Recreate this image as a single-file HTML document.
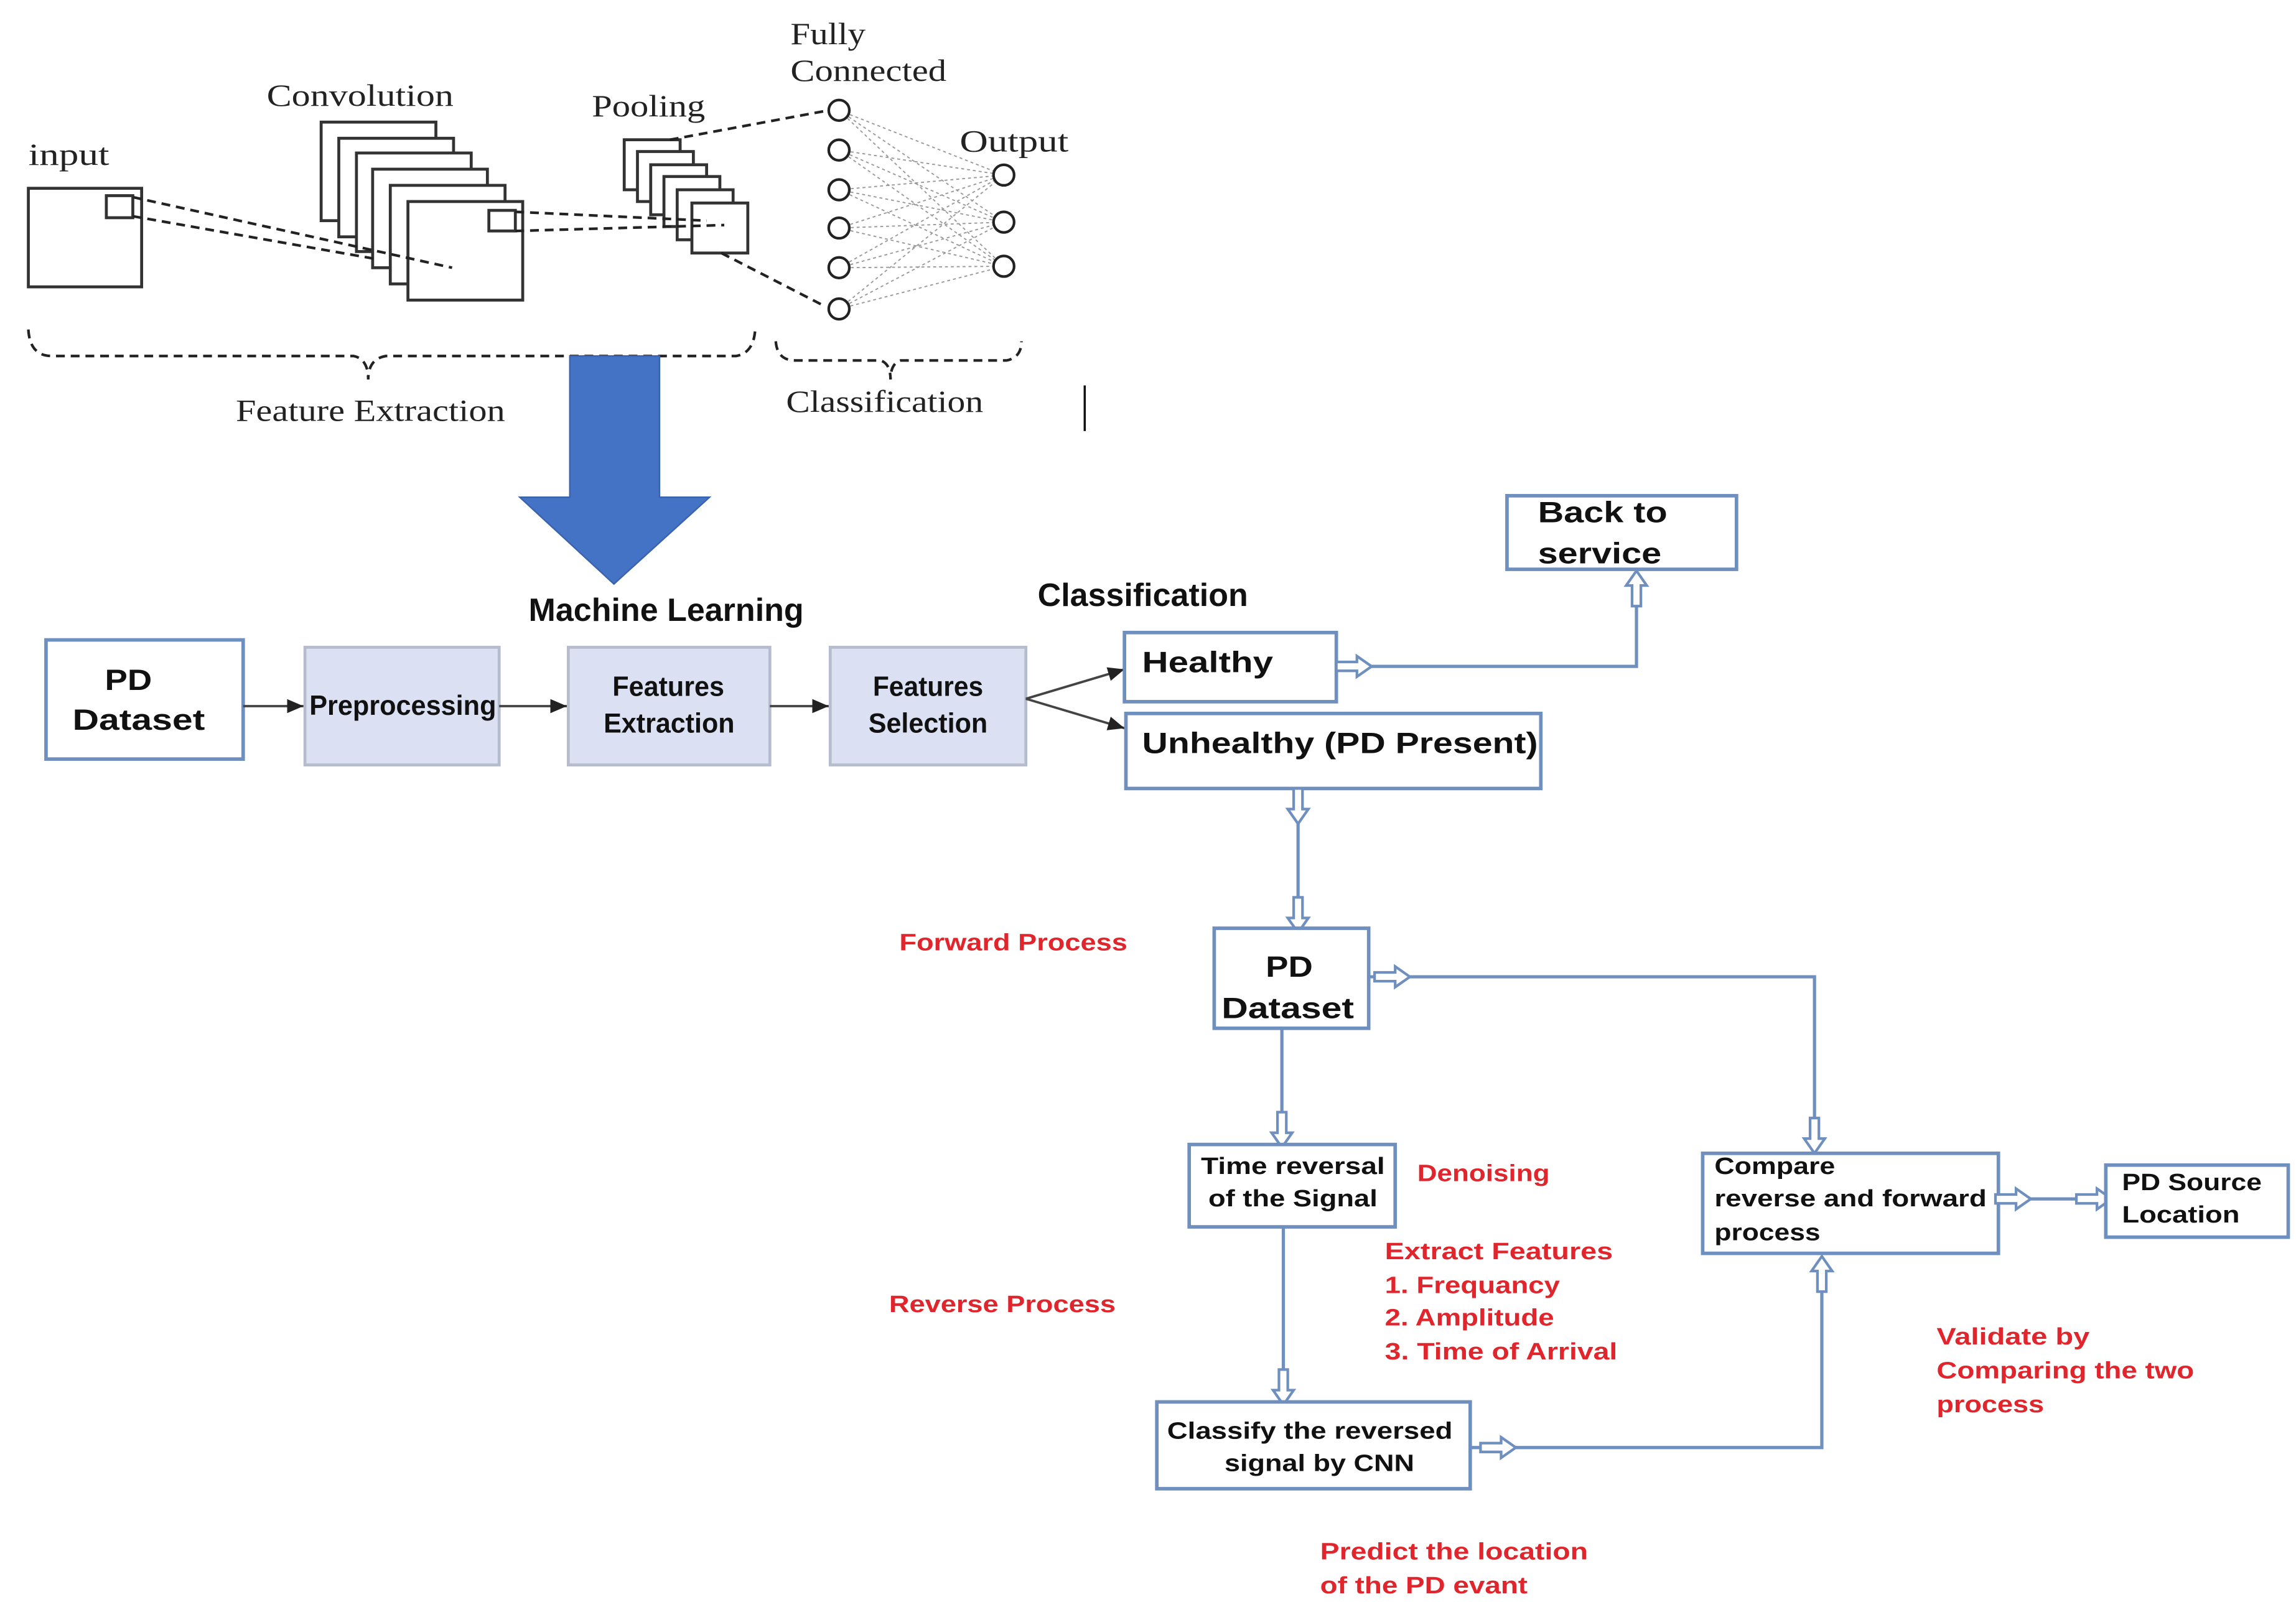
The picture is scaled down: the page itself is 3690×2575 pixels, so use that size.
<!DOCTYPE html>
<html><head><meta charset="utf-8"><style>
html,body{margin:0;padding:0;background:#fff;}
svg{display:block;}
.serif{font-family:"Liberation Serif",serif;fill:#222;font-size:21px;}
.b{font-family:"Liberation Sans",sans-serif;font-weight:bold;fill:#111;}
.r{font-family:"Liberation Sans",sans-serif;font-weight:bold;fill:#e0262c;font-size:16px;}
.ln{stroke:#6f8fbf;stroke-width:2.2;fill:none;}
.bx{stroke:#6f8fbf;stroke-width:2.4;fill:#fff;}
.gb{stroke:#b5bccb;stroke-width:2;fill:#dbe1f3;}
.k{stroke:#333;stroke-width:2;fill:#fff;}
.d{stroke:#222;stroke-width:1.8;stroke-dasharray:6,4;fill:none;}
.f{stroke:#999;stroke-width:0.8;stroke-dasharray:2,2;fill:none;}
</style></head><body>
<svg width="3690" height="2575" viewBox="0 0 1560 1089" xmlns="http://www.w3.org/2000/svg">
<defs>
<g id="ha"><polygon points="-12,-3 2,-3 2,-7 12,0 2,7 2,3 -12,3" fill="#fff" stroke="#6f8fbf" stroke-width="1.8"/></g>
<marker id="m" markerWidth="8" markerHeight="8" refX="7" refY="4" orient="auto"><path d="M0,1 L7,4 L0,7z" fill="#222"/></marker>
</defs>
<g lengthAdjust="spacingAndGlyphs">
<text class="serif" x="19" y="112" textLength="55" lengthAdjust="spacingAndGlyphs">input</text>
<text class="serif" x="181" y="72" textLength="127" lengthAdjust="spacingAndGlyphs">Convolution</text>
<text class="serif" x="402" y="79" textLength="77" lengthAdjust="spacingAndGlyphs">Pooling</text>
<text class="serif" x="537" y="30" textLength="51" lengthAdjust="spacingAndGlyphs">Fully</text>
<text class="serif" x="537" y="55" textLength="106" lengthAdjust="spacingAndGlyphs">Connected</text>
<text class="serif" x="652" y="103" textLength="74" lengthAdjust="spacingAndGlyphs">Output</text>
</g>
<rect class="k" x="19" y="128" width="77" height="67"/>
<rect class="k" x="72" y="133" width="18" height="15"/>
<rect class="k" x="218" y="83" width="78" height="67"/>
<rect class="k" x="230" y="94" width="78" height="67"/>
<rect class="k" x="242" y="104" width="78" height="67"/>
<rect class="k" x="253" y="115" width="78" height="67"/>
<rect class="k" x="265" y="126" width="78" height="67"/>
<rect class="k" x="277" y="137" width="78" height="67"/>
<rect class="k" x="332" y="143" width="18" height="14"/>
<path class="d" d="M90,134 L307,182 M90,147 L255,176"/>
<rect class="k" x="424" y="95" width="38" height="34"/>
<rect class="k" x="433" y="103" width="38" height="34"/>
<rect class="k" x="442" y="112" width="38" height="34"/>
<rect class="k" x="451" y="120" width="38" height="34"/>
<rect class="k" x="460" y="129" width="38" height="34"/>
<rect class="k" x="470" y="138" width="38" height="34"/>
<path class="d" d="M350,144 L480,150 M350,157 L492,153 M455,95 L563,75 M490,172 L560,208"/>
<g class="f">
<path d="M570,75 L682,119 M570,75 L682,151 M570,75 L682,181 M570,102 L682,119 M570,102 L682,151 M570,102 L682,181 M570,129 L682,119 M570,129 L682,151 M570,129 L682,181 M570,155 L682,119 M570,155 L682,151 M570,155 L682,181 M570,182 L682,119 M570,182 L682,151 M570,182 L682,181 M570,210 L682,119 M570,210 L682,151 M570,210 L682,181"/>
</g>
<g fill="#fff" stroke="#222" stroke-width="1.8">
<circle cx="570" cy="75" r="7"/><circle cx="570" cy="102" r="7"/><circle cx="570" cy="129" r="7"/><circle cx="570" cy="155" r="7"/><circle cx="570" cy="182" r="7"/><circle cx="570" cy="210" r="7"/>
<circle cx="682" cy="119" r="7"/><circle cx="682" cy="151" r="7"/><circle cx="682" cy="181" r="7"/>
</g>
<path class="d" d="M19,224 Q20,242 35,242 L240,242 Q250,244 250,258 Q250,244 262,242 L500,242 Q512,240 513,224"/>
<path class="d" d="M527,232 Q528,245 540,245 L598,245 Q605,247 605,258 Q605,247 612,245 L684,245 Q694,243 694,232"/>
<text class="serif" x="160" y="286" textLength="183" lengthAdjust="spacingAndGlyphs">Feature Extraction</text>
<text class="serif" x="534" y="280" textLength="134" lengthAdjust="spacingAndGlyphs">Classification</text>
<line x1="737" y1="262" x2="737" y2="293" stroke="#111" stroke-width="1.5"/>
<polygon points="387,242 448,242 448,338 482,338 417,397 353,338 387,338" fill="#4472c4" stroke="#3a62ad" stroke-width="1"/>
<text class="b" x="359" y="422" font-size="22" textLength="187" lengthAdjust="spacingAndGlyphs">Machine Learning</text>
<text class="b" x="705" y="412" font-size="22" textLength="143" lengthAdjust="spacingAndGlyphs">Classification</text>
<rect class="bx" x="31" y="435" width="134" height="81"/>
<text class="b" x="71" y="469" font-size="20" textLength="32" lengthAdjust="spacingAndGlyphs">PD</text>
<text class="b" x="49" y="496" font-size="20" textLength="90" lengthAdjust="spacingAndGlyphs">Dataset</text>
<rect class="gb" x="207" y="440" width="132" height="80"/>
<rect class="gb" x="386" y="440" width="137" height="80"/>
<rect class="gb" x="564" y="440" width="133" height="80"/>
<text class="b" x="210" y="486" font-size="19" fill="#222" textLength="127" lengthAdjust="spacingAndGlyphs">Preprocessing</text>
<text class="b" x="416" y="473" font-size="19" textLength="76" lengthAdjust="spacingAndGlyphs">Features</text>
<text class="b" x="410" y="498" font-size="19" textLength="89" lengthAdjust="spacingAndGlyphs">Extraction</text>
<text class="b" x="593" y="473" font-size="19" textLength="75" lengthAdjust="spacingAndGlyphs">Features</text>
<text class="b" x="590" y="498" font-size="19" textLength="81" lengthAdjust="spacingAndGlyphs">Selection</text>
<g stroke="#444" stroke-width="1.6" marker-end="url(#m)">
<line x1="165" y1="480" x2="206" y2="480"/>
<line x1="339" y1="480" x2="385" y2="480"/>
<line x1="523" y1="480" x2="563" y2="480"/>
<line x1="697" y1="475" x2="764" y2="455"/>
<line x1="697" y1="475" x2="764" y2="495"/>
</g>
<rect class="bx" x="764" y="430" width="144" height="47"/>
<text class="b" x="776" y="457" font-size="20" textLength="89" lengthAdjust="spacingAndGlyphs">Healthy</text>
<rect class="bx" x="765" y="485" width="282" height="51"/>
<text class="b" x="776" y="512" font-size="20" textLength="269" lengthAdjust="spacingAndGlyphs">Unhealthy (PD Present)</text>
<rect class="bx" x="1024" y="337" width="156" height="50"/>
<text class="b" x="1045" y="355" font-size="20" textLength="88" lengthAdjust="spacingAndGlyphs">Back to</text>
<text class="b" x="1045" y="383" font-size="20" textLength="84" lengthAdjust="spacingAndGlyphs">service</text>
<path class="ln" d="M908,453 L1112,453 L1112,400"/>
<use href="#ha" transform="translate(920,453)"/>
<use href="#ha" transform="translate(1112,400) rotate(-90)"/>
<path class="ln" d="M882,537 L882,620"/>
<use href="#ha" transform="translate(882,548) rotate(90)"/>
<use href="#ha" transform="translate(882,622) rotate(90)"/>
<rect class="bx" x="825" y="631" width="105" height="68"/>
<text class="b" x="860" y="664" font-size="20" textLength="32" lengthAdjust="spacingAndGlyphs">PD</text>
<text class="b" x="830" y="692" font-size="20" textLength="90" lengthAdjust="spacingAndGlyphs">Dataset</text>
<path class="ln" d="M930,664 L1233,664 L1233,772"/>
<use href="#ha" transform="translate(946,664)"/>
<use href="#ha" transform="translate(1233,772) rotate(90)"/>
<path class="ln" d="M871,699 L871,768"/>
<use href="#ha" transform="translate(871,768) rotate(90)"/>
<rect class="bx" x="808" y="778" width="140" height="56"/>
<text class="b" x="816" y="798" font-size="16" textLength="125" lengthAdjust="spacingAndGlyphs">Time reversal</text>
<text class="b" x="821" y="820" font-size="16" textLength="115" lengthAdjust="spacingAndGlyphs">of the Signal</text>
<path class="ln" d="M872,834 L872,943"/>
<use href="#ha" transform="translate(872,943) rotate(90)"/>
<rect class="bx" x="786" y="953" width="213" height="59"/>
<text class="b" x="793" y="978" font-size="16" textLength="194" lengthAdjust="spacingAndGlyphs">Classify the reversed</text>
<text class="b" x="832" y="1000" font-size="16" textLength="129" lengthAdjust="spacingAndGlyphs">signal by CNN</text>
<path class="ln" d="M999,984 L1238,984 L1238,866"/>
<use href="#ha" transform="translate(1018,984)"/>
<use href="#ha" transform="translate(1238,866) rotate(-90)"/>
<rect class="bx" x="1157" y="784" width="201" height="68"/>
<text class="b" x="1165" y="798" font-size="16" textLength="82" lengthAdjust="spacingAndGlyphs">Compare</text>
<text class="b" x="1165" y="820" font-size="16" textLength="185" lengthAdjust="spacingAndGlyphs">reverse and forward</text>
<text class="b" x="1165" y="843" font-size="16" textLength="72" lengthAdjust="spacingAndGlyphs">process</text>
<path class="ln" d="M1358,815 L1431,815"/>
<use href="#ha" transform="translate(1368,815)"/>
<use href="#ha" transform="translate(1423,815)"/>
<rect class="bx" x="1431" y="792" width="124" height="49"/>
<text class="b" x="1442" y="809" font-size="16" textLength="95" lengthAdjust="spacingAndGlyphs">PD Source</text>
<text class="b" x="1442" y="831" font-size="16" textLength="80" lengthAdjust="spacingAndGlyphs">Location</text>
<text class="r" x="611" y="646" textLength="155" lengthAdjust="spacingAndGlyphs">Forward Process</text>
<text class="r" x="963" y="803" textLength="90" lengthAdjust="spacingAndGlyphs">Denoising</text>
<text class="r" x="941" y="856" textLength="155" lengthAdjust="spacingAndGlyphs">Extract Features</text>
<text class="r" x="941" y="879" textLength="119" lengthAdjust="spacingAndGlyphs">1. Frequancy</text>
<text class="r" x="941" y="901" textLength="115" lengthAdjust="spacingAndGlyphs">2. Amplitude</text>
<text class="r" x="941" y="924" textLength="158" lengthAdjust="spacingAndGlyphs">3. Time of Arrival</text>
<text class="r" x="604" y="892" textLength="154" lengthAdjust="spacingAndGlyphs">Reverse Process</text>
<text class="r" x="1316" y="914" textLength="104" lengthAdjust="spacingAndGlyphs">Validate by</text>
<text class="r" x="1316" y="937" textLength="175" lengthAdjust="spacingAndGlyphs">Comparing the two</text>
<text class="r" x="1316" y="960" textLength="73" lengthAdjust="spacingAndGlyphs">process</text>
<text class="r" x="897" y="1060" textLength="182" lengthAdjust="spacingAndGlyphs">Predict the location</text>
<text class="r" x="897" y="1083" textLength="141" lengthAdjust="spacingAndGlyphs">of the PD evant</text>
</svg>
</body></html>
